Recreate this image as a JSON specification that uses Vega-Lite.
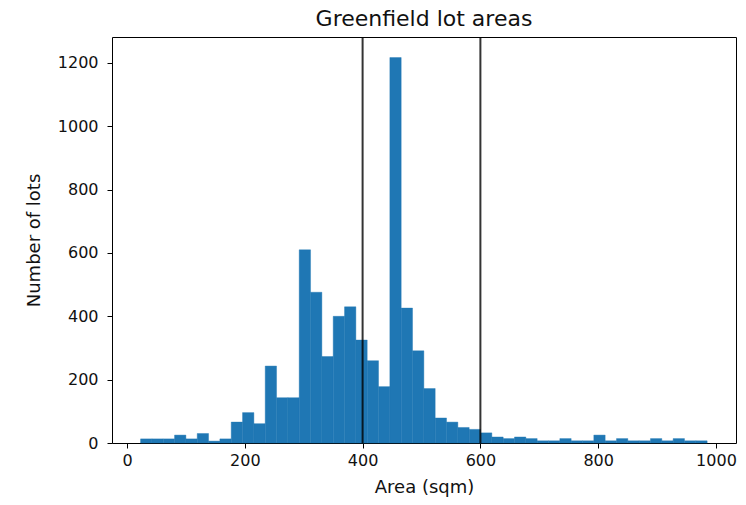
{
  "$schema": "https://vega.github.io/schema/vega-lite/v6.json",
  "width": 624,
  "height": 406,
  "autosize": {"type": "none"},
  "padding": {"left": 112, "top": 37, "right": 10, "bottom": 62},
  "background": "white",
  "title": {"text": "Greenfield lot areas", "font": "DejaVu Sans", "fontSize": 22, "fontWeight": "normal", "color": "#111", "offset": 5, "anchor": "middle"},
  "config": {
    "view": {"stroke": "#000", "strokeWidth": 1},
    "axis": {"font": "DejaVu Sans", "labelFont": "DejaVu Sans", "titleFont": "DejaVu Sans", "labelFontSize": 16, "titleFontSize": 18, "titleFontWeight": "normal", "labelColor": "#111", "titleColor": "#111", "tickColor": "#000", "tickSize": 5, "domain": false, "grid": false}
  },
  "datasets": {
    "bins": [
      {"start": 23.0, "end": 42.24, "count": 13},
      {"start": 42.24, "end": 61.48, "count": 13},
      {"start": 61.48, "end": 80.72, "count": 13},
      {"start": 80.72, "end": 99.96, "count": 25},
      {"start": 99.96, "end": 119.2, "count": 13},
      {"start": 119.2, "end": 138.44, "count": 30},
      {"start": 138.44, "end": 157.68, "count": 6},
      {"start": 157.68, "end": 176.92, "count": 13},
      {"start": 176.92, "end": 196.16, "count": 66},
      {"start": 196.16, "end": 215.4, "count": 96},
      {"start": 215.4, "end": 234.64, "count": 61},
      {"start": 234.64, "end": 253.88, "count": 243},
      {"start": 253.88, "end": 273.12, "count": 143},
      {"start": 273.12, "end": 292.36, "count": 143},
      {"start": 292.36, "end": 311.6, "count": 610},
      {"start": 311.6, "end": 330.84, "count": 476},
      {"start": 330.84, "end": 350.08, "count": 273},
      {"start": 350.08, "end": 369.32, "count": 400},
      {"start": 369.32, "end": 388.56, "count": 430},
      {"start": 388.56, "end": 407.8, "count": 325},
      {"start": 407.8, "end": 427.04, "count": 260},
      {"start": 427.04, "end": 446.28, "count": 178},
      {"start": 446.28, "end": 465.52, "count": 1217},
      {"start": 465.52, "end": 484.76, "count": 426},
      {"start": 484.76, "end": 504.0, "count": 291},
      {"start": 504.0, "end": 523.24, "count": 172},
      {"start": 523.24, "end": 542.48, "count": 79},
      {"start": 542.48, "end": 561.72, "count": 66},
      {"start": 561.72, "end": 580.96, "count": 49},
      {"start": 580.96, "end": 600.2, "count": 43},
      {"start": 600.2, "end": 619.44, "count": 32},
      {"start": 619.44, "end": 638.68, "count": 19},
      {"start": 638.68, "end": 657.92, "count": 14},
      {"start": 657.92, "end": 677.16, "count": 19},
      {"start": 677.16, "end": 696.4, "count": 14},
      {"start": 696.4, "end": 715.64, "count": 7},
      {"start": 715.64, "end": 734.88, "count": 7},
      {"start": 734.88, "end": 754.12, "count": 14},
      {"start": 754.12, "end": 773.36, "count": 7},
      {"start": 773.36, "end": 792.6, "count": 7},
      {"start": 792.6, "end": 811.84, "count": 25},
      {"start": 811.84, "end": 831.08, "count": 7},
      {"start": 831.08, "end": 850.32, "count": 14},
      {"start": 850.32, "end": 869.56, "count": 7},
      {"start": 869.56, "end": 888.8, "count": 7},
      {"start": 888.8, "end": 908.04, "count": 14},
      {"start": 908.04, "end": 927.28, "count": 7},
      {"start": 927.28, "end": 946.52, "count": 14},
      {"start": 946.52, "end": 965.76, "count": 7},
      {"start": 965.76, "end": 985.0, "count": 7}
    ],
    "lines": [{"x": 400}, {"x": 600}]
  },
  "layer": [
    {
      "data": {"name": "bins"},
      "mark": {"type": "bar", "color": "#1f77b4", "stroke": "#1f77b4", "strokeWidth": 0.4, "cornerRadius": 0},
      "encoding": {
        "x": {"field": "start", "type": "quantitative", "scale": {"domain": [-25.5, 1034], "nice": false, "zero": false},
          "axis": {"values": [0, 200, 400, 600, 800, 1000], "title": "Area (sqm)", "labelPadding": 4, "titlePadding": 10, "format": "d"}},
        "x2": {"field": "end"},
        "y": {"field": "count", "type": "quantitative", "scale": {"domain": [0, 1282], "nice": false},
          "axis": {"values": [0, 200, 400, 600, 800, 1000, 1200], "title": "Number of lots", "labelPadding": 9, "titlePadding": 14, "format": "d"}},
        "y2": {"datum": 0}
      }
    },
    {
      "data": {"name": "lines"},
      "mark": {"type": "rule", "color": "#000", "strokeWidth": 2, "opacity": 0.8},
      "encoding": {
        "x": {"field": "x", "type": "quantitative"}
      }
    }
  ]
}
